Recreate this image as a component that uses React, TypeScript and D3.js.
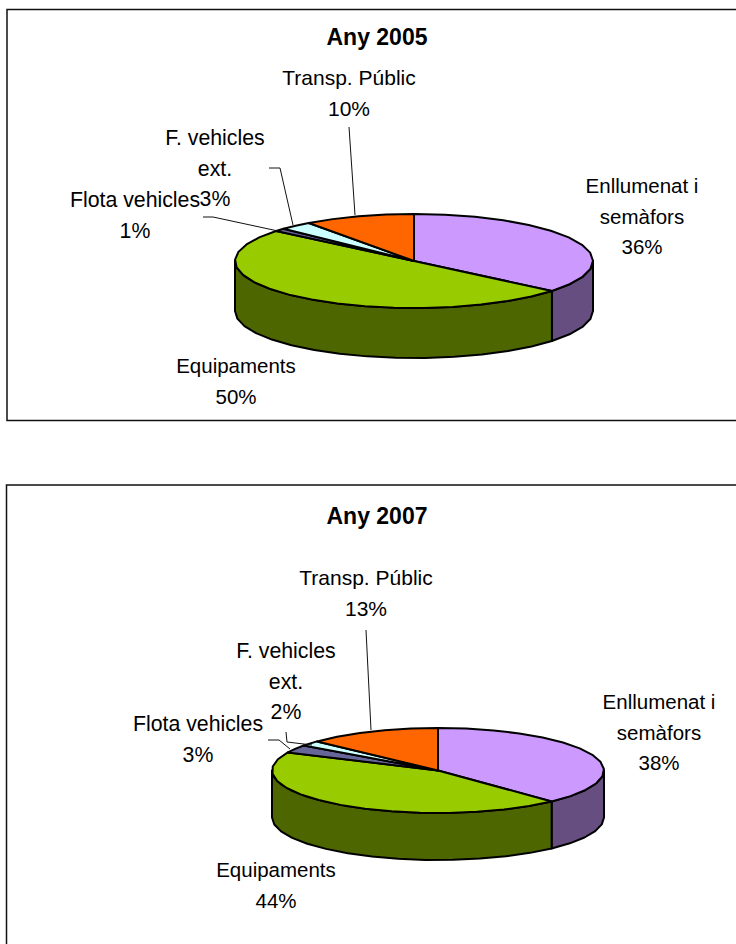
import React from "react";
import * as d3 from "d3";

const categories = ["Enllumenat i semàfors", "Equipaments", "Flota vehicles", "F. vehicles ext.", "Transp. Públic"];
const values2005 = [36, 50, 1, 3, 10];
const values2007 = [38, 44, 3, 2, 13];
const topColors = ["#CC99FF", "#99CC00", "#666699", "#CCFFFF", "#FF6600"];
const sideColors = ["#664F80", "#4D6600", "#333366", "#668080", "#803300"];

type Label = { lines: string[]; x: number; y: number; size: number };
type Leader = [number, number][];
type Cfg = {
  title: string; values: number[]; frame: [number, number, number, number]; titleY: number;
  cx: number; cy: number; rx: number; ry: number; depth: number; labels: Label[]; leaders: Leader[];
};

const charts: Cfg[] = [
  {
    title: "Any 2005", values: values2005, frame: [7, 9.5, 740, 411], titleY: 45,
    cx: 414, cy: 261, rx: 179, ry: 47, depth: 50,
    labels: [
      { lines: ["Enllumenat i", "semàfors", "36%"], x: 642, y: 193, size: 20.5 },
      { lines: ["Equipaments", "50%"], x: 236, y: 373, size: 20.5 },
      { lines: ["Flota vehicles", "1%"], x: 135, y: 207, size: 21.3 },
      { lines: ["F. vehicles", "ext.", "3%"], x: 215, y: 145, size: 21.3 },
      { lines: ["Transp. Públic", "10%"], x: 349, y: 85, size: 21 },
    ],
    leaders: [
      [[349, 127], [355, 215]],
      [[269, 168], [280, 168], [293, 225]],
      [[203, 217], [213, 217], [278, 231]],
    ],
  },
  {
    title: "Any 2007", values: values2007, frame: [6.5, 485, 740, 470], titleY: 524,
    cx: 438, cy: 770.5, rx: 166, ry: 42.5, depth: 47,
    labels: [
      { lines: ["Enllumenat i", "semàfors", "38%"], x: 659, y: 709, size: 20.5 },
      { lines: ["Equipaments", "44%"], x: 276, y: 877, size: 20.5 },
      { lines: ["Flota vehicles", "3%"], x: 198, y: 731, size: 21.3 },
      { lines: ["F. vehicles", "ext.", "2%"], x: 286, y: 658, size: 21.3 },
      { lines: ["Transp. Públic", "13%"], x: 366, y: 585, size: 21 },
    ],
    leaders: [
      [[366, 630], [371, 730]],
      [[286, 732], [287, 742], [312, 745]],
      [[268, 740], [279, 740], [290, 749]],
    ],
  },
];

const lineGen = d3.line<[number, number]>();

function Pie3D({ c }: { c: Cfg }) {
  const arcs = d3.pie<number>().sort(null).value((d) => d)(c.values);
  const pt = (a: number, dy = 0): [number, number] => [c.cx + c.rx * Math.sin(a), c.cy - c.ry * Math.cos(a) + dy];
  const sample = (a0: number, a1: number, dy = 0) => {
    const n = Math.max(1, Math.ceil((a1 - a0) / (Math.PI / 18)));
    return d3.range(n + 1).map((i) => pt(a0 + ((a1 - a0) * i) / n, dy));
  };
  const sw = 2;
  return (
    <g>
      {arcs.map((a, i) => {
        const s = Math.max(a.startAngle, Math.PI / 2);
        const e = Math.min(a.endAngle, (3 * Math.PI) / 2);
        if (e <= s) return null;
        const pts = [...sample(s, e), ...sample(s, e, c.depth).reverse()];
        return <path key={i} d={lineGen(pts) + "Z"} fill={sideColors[i]} stroke="#000" strokeWidth={sw} strokeLinejoin="round" />;
      })}
      {arcs.map((a, i) => {
        const pts: [number, number][] = [[c.cx, c.cy], ...sample(a.startAngle, a.endAngle)];
        return <path key={i} d={lineGen(pts) + "Z"} fill={topColors[i]} stroke="#000" strokeWidth={sw} strokeLinejoin="round" />;
      })}
    </g>
  );
}

function Chart({ c }: { c: Cfg }) {
  const [fx, fy, fw, fh] = c.frame;
  return (
    <g>
      <rect x={fx} y={fy} width={fw} height={fh} fill="#fff" stroke="#111" strokeWidth={1.5} />
      <text x={377} y={c.titleY} textAnchor="middle" fontWeight="bold" fontSize={23}>{c.title}</text>
      <Pie3D c={c} />
      {c.leaders.map((l, i) => (
        <path key={i} d={lineGen(l) ?? ""} fill="none" stroke="#111" strokeWidth={1} />
      ))}
      {c.labels.map((l, i) => (
        <text key={i} textAnchor="middle" fontSize={l.size} fill="#000">
          {l.lines.map((t, j) => (
            <tspan key={j} x={l.x} y={l.y + j * 30.5}>{t}</tspan>
          ))}
        </text>
      ))}
    </g>
  );
}

export default function App() {
  return (
    <svg width={736} height={944} style={{ position: "absolute", left: 0, top: 0, fontFamily: "'Liberation Sans', Arial, sans-serif" }}>
      <desc>{categories.join(", ")}</desc>
      <rect width={736} height={944} fill="#fff" />
      {charts.map((c) => <Chart key={c.title} c={c} />)}
    </svg>
  );
}
